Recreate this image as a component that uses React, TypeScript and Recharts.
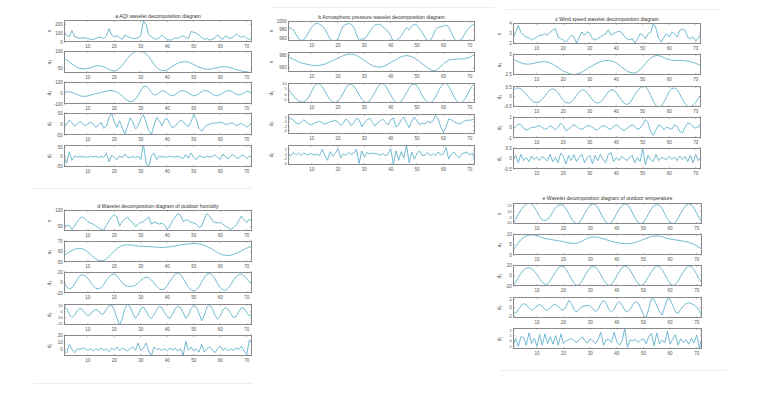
import React from 'react';
import { LineChart, Line, XAxis, YAxis } from 'recharts';

const X = [1,2,3,4,5,6,7,8,9,10,11,12,13,14,15,16,17,18,19,20,21,22,23,24,25,26,27,28,29,30,31,32,33,34,35,36,37,38,39,40,41,42,43,44,45,46,47,48,49,50,51,52,53,54,55,56,57,58,59,60,61,62,63,64,65,66,67,68,69,70,71,72];
const X_TICKS = [10,20,30,40,50,60,70];

// a: AQI
const aqiS = [100,80,60,130,60,50,40,50,45,40,30,30,40,55,50,40,70,150,80,60,70,50,30,80,60,50,40,40,50,70,240,200,80,60,40,30,50,80,50,30,20,30,50,40,60,70,50,40,120,110,100,80,50,30,40,20,30,50,80,50,30,70,50,40,60,90,70,50,70,40,30,50];
const aqiA3 = [80,76,70,64,58,54,51,50,50,51,53,56,58,59,58,56,52,48,45,44,46,52,60,70,80,89,95,99,100,100,98,93,85,74,63,54,48,45,45,47,52,57,62,66,69,70,70,69,66,62,58,55,52,50,49,49,50,52,54,55,56,56,55,53,50,48,46,44,42,41,40,40];
const aqiD3 = [10,12,10,5,-5,-15,-25,-30,-30,-27,-20,-12,-5,0,5,12,18,22,22,18,8,-8,-28,-50,-68,-78,-75,-55,-20,25,60,65,40,5,-18,-15,5,20,18,0,-18,-25,-15,5,18,22,15,0,-15,-25,-20,-5,12,22,20,8,-10,-22,-25,-15,0,15,22,18,5,-10,-18,-12,2,15,12,0];
const aqiD2 = [-18,0,18,5,-10,0,12,2,-8,0,8,0,-15,-5,8,-20,-10,30,48,10,-15,15,-20,-45,-10,28,10,-22,-10,25,42,10,-30,-48,-5,30,15,-8,20,25,0,-18,-10,5,18,10,-5,-12,10,42,20,-20,-33,-15,-5,0,2,5,5,8,5,-2,0,5,3,-8,-3,2,-5,-15,-5,5];
const aqiD1 = [0,-35,27,-20,5,-3,2,-2,0,-3,2,-1,3,-4,2,-3,20,-27,8,-2,-17,5,-6,15,-3,-5,2,-5,3,-15,70,-35,-55,5,20,-15,4,-3,2,-4,3,0,-2,3,-3,-10,12,-8,20,-5,-15,5,0,-6,4,-2,2,10,-4,-15,15,-3,-12,5,12,-6,-8,8,5,-10,3,0];

// b: atmospheric pressure
const presS = [987,984,980,969,959,954,956,965,976,986,993,996,993,989,982,969,958,953,953,958,976,989,993,995,993,986,969,954,958,958,965,976,984,991,993,993,987,982,976,965,953,954,958,965,976,985,980,989,993,991,982,973,962,953,954,965,980,986,987,989,991,987,973,959,953,954,958,969,980,986,991,995];
const presA3 = [978,976,974,972,970,968,967,966,965,964,963.5,963.5,964,965,966,968,970,972,974,976,978,980,981.5,982.5,982.5,982,980.5,978,975,972,969,966,963.5,962,961,961,962,963.5,966,968.5,971,973.5,976,978,979.5,980,979.5,978,976,973,970,966.5,963.5,960,957,955,955.5,958,962,966.5,970,972.5,973.5,974,974,974.5,974.5,975,976,977,980,983.5];
const presD3 = [5,2,-1,-4,-6,-7,-7,-5.5,-2,3,7.5,10,9.5,7,3,-1.5,-5,-7,-7.5,-6,-3,1.5,6,9,9.5,7.5,4,-0.5,-4.5,-7,-7.5,-6,-2.5,2,6.5,9.5,10,8,4,-0.5,-5,-7.5,-8,-6.5,-3,1.5,6,9,9.5,7.5,3.5,-1,-5,-7.5,-8,-6,-2.5,2.5,7,10,10,7.5,3,-2,-6,-8,-7.5,-5,-1,4,8,10];
const presD2 = [0.3,1.6,0.9,-0.5,-1,-0.2,0.9,0,-1,-1.4,-0.5,-0.2,0.2,-0.5,-1,-0.5,0,0.3,0.7,-0.2,-1.7,-0.5,1.2,0.3,-1.7,-0.5,1.6,0.9,-2.3,-0.5,0.9,1.6,-0.2,-1.9,-0.5,0.5,1.2,-0.2,-1.4,0.9,1.7,-2.3,-1.4,0.9,2.1,-0.5,-2.6,0.3,2.1,0.3,-1.4,-0.5,-1,0.3,-0.5,0.3,2.9,1.2,-2.3,-4.8,-2.3,1.2,0.9,0,-0.5,-1,-0.5,0.3,0.7,0.7,0.9,1.2];
const presD1 = [0.5,-0.8,0.8,-0.3,0.6,-0.5,0.7,-0.2,0.1,0.3,-0.2,0.2,-0.5,2.2,-0.5,-2.5,1.2,-0.8,0.5,2.5,-1.5,0.3,-0.3,0.8,0,0.6,2.2,-3.8,1.5,-1.2,0.8,0.2,0.6,0.4,0.2,-0.3,0.3,-0.5,0.2,2.5,-4.2,1.5,-2.5,1.2,-1.5,4,-3.5,1,-2,0.5,1.5,-0.5,-0.3,0.8,-0.6,0.3,-0.5,1,-0.3,0.2,3,-2,0.2,1,-0.5,-1.5,0.3,0.6,1,-0.3,0.6,-2.5];

// c: wind speed
const windS = [2.45,3.1,3.8,3.1,2.8,2.6,2.55,2.3,2.45,2.6,2.8,2.8,2.95,2.8,3.1,3.3,3.5,2.6,2.45,2.3,2.1,2.45,2.8,2.6,2.0,2.6,3.15,2.8,3.15,3.0,2.45,2.3,2.45,2.6,2.8,2.95,3.35,2.8,2.95,3.1,3.2,3.1,2.7,2.45,2.3,2.45,2.0,2.4,2.95,2.8,2.45,2.95,3.1,4.0,3.5,2.45,2.1,2.6,2.95,2.6,3.1,2.95,2.6,3.3,3.45,3.3,2.6,2.45,2.6,2.2,2.5,3.0];
const windA3 = [2.87,2.84,2.81,2.78,2.76,2.75,2.75,2.76,2.77,2.79,2.8,2.81,2.81,2.8,2.78,2.75,2.71,2.67,2.62,2.58,2.55,2.52,2.5,2.49,2.5,2.52,2.55,2.59,2.63,2.67,2.71,2.75,2.78,2.81,2.83,2.84,2.84,2.83,2.81,2.78,2.73,2.68,2.63,2.58,2.55,2.53,2.53,2.56,2.61,2.68,2.76,2.84,2.9,2.94,2.96,2.96,2.94,2.91,2.88,2.86,2.85,2.84,2.84,2.84,2.84,2.83,2.82,2.81,2.79,2.77,2.74,2.71];
const windD3 = [0.3,0.42,0.45,0.4,0.28,0.12,-0.05,-0.2,-0.3,-0.32,-0.27,-0.15,0.02,0.2,0.35,0.4,0.35,0.2,0,-0.2,-0.32,-0.35,-0.3,-0.15,0.05,0.25,0.35,0.33,0.2,0.02,-0.17,-0.3,-0.35,-0.3,-0.15,0.05,0.25,0.35,0.33,0.2,0,-0.2,-0.35,-0.42,-0.35,-0.15,0.1,0.3,0.45,0.55,0.52,0.35,0.05,-0.25,-0.48,-0.57,-0.5,-0.3,-0.02,0.25,0.42,0.45,0.35,0.12,-0.15,-0.38,-0.52,-0.55,-0.45,-0.3,-0.1,0.1];
const windD2 = [-0.23,0.1,0.33,0.27,-0.07,-0.23,-0.17,0.03,0,0.1,0.2,0.03,-0.17,-0.07,0.17,0,-0.23,0.03,0.43,0.17,-0.3,-0.17,0.1,0.27,0.1,-0.1,-0.17,-0.03,0.17,0.17,0.03,-0.17,-0.23,0.03,0.17,0.1,-0.1,-0.17,0.1,0.27,0.1,-0.17,-0.3,-0.07,0.1,0.27,0.1,-0.17,-0.07,0.27,0.77,0.43,-0.4,-0.73,-0.23,0.27,0.1,-0.23,0.03,-0.07,-0.17,0.27,0.1,-0.4,-0.5,0.03,0.43,0.33,0.1,-0.07,0.1,0.43];
const windD1 = [-0.05,0.15,-0.2,0.2,-0.1,0.05,-0.15,0.12,-0.05,0.08,-0.1,0.1,0,-0.12,0.2,-0.15,0.05,-0.2,0.25,0.1,-0.25,0.15,-0.1,0.18,-0.15,0.05,0.2,-0.2,0.05,0.15,-0.25,0.15,-0.1,0.2,-0.05,-0.2,0.2,0.28,-0.15,0.05,-0.1,0.1,0,-0.1,0.05,0.15,-0.2,0.05,-0.15,0.45,-0.3,0.15,-0.05,-0.15,0.2,-0.1,0.05,0,-0.05,0.1,-0.05,0.08,-0.1,0.12,-0.05,0.1,-0.15,0.15,-0.2,0.2,-0.1,0.05];

// d: outdoor humidity
const humS = [54,52,54,41.5,52,65,75.5,79,73,65,61,57.5,52,47,41.5,39,54,68,79,86,79,52,65,73,79,68,63,50,57.5,63,65,73,79,57.5,63,61,57.5,61,54,41.5,52,68,79,89,84,65,71,68,63,61,57.5,47,52,73,89,82,68,63,61,63,57.5,52,47,41.5,47,54,68,82,71,63,73,63];
const humA3 = [56,58,59.5,61,62,62.8,63,62.5,61.2,59.5,57.3,55,53,51.5,51,51.5,53,55.3,58,60.5,62.8,64.5,65.6,66.2,66.4,66.3,66,65.6,65.2,65,64.8,64.7,64.6,64.5,64.3,64.1,64,63.9,64,64.2,64.5,64.9,65.3,65.8,66.2,66.6,67,67.3,67.5,67.6,67.5,67.2,66.6,65.8,64.8,63.5,62,60.5,59,57.7,56.8,56.3,56.2,56.5,57.2,58.2,59.4,60.7,62,63.2,64.2,65];
const humD3 = [0,-8,-12,-10,-3,6,13,15,13,8,1,-6,-11,-12,-10,-4,4,11,15,16,13,6,-1,-5,-7,-7.5,-7,-5,-1,4,8,10,9,5,-1,-7,-12,-14,-12,-6,2,10,16,18,15,8,-1,-9,-14,-16,-14,-8,1,10,16,17,14,7,-2,-10,-14,-15,-11,-4,4,11,15,16,13,7,1,-3];
const humD2 = [8,5.5,-4,-9.5,-5.5,1.5,5.5,4,-3,-7,-4,1.5,4,1.5,-4,-3,4,9.5,11,3,-11,-22,-11,5.5,12.5,8,-3,-11,-5.5,5.5,8,1.5,-8,-11,-5.5,4,9.5,7,-1.5,-8,-11,-4,5.5,9.5,7,-1.5,-11,-5.5,5.5,11,8,-3,-15,-5.5,8,11,5.5,-5.5,-12.5,-7,3,7,4,-3,-9.5,-8,0,7,5.5,-1.5,-7,-3];
const humD1 = [-2,-4.5,7,0,-4.5,1,0,2,1,-1,1,-2,1,-1,2,-1,1,-3,2,-1,3.5,-2,2,0,-2,1,3.5,-1,9,-2,2,9,-2,-9,3.5,0,1,-1,1,-2,2,-1,2,-2,1,-8,11,-1,3.5,-2,1,-3.5,7,-3.5,1,3.5,0,-4.5,1,4.5,-1,2,-2,1,-1,2,0,4.5,-2,-7,13,11];

// e: outdoor temperature
const tempS = [-11,-4,5,13,19,23,24.5,23,18,10,1,-5,-6,-4,2,10,17,21,22,20,14,6,-3,-9,-11.5,-9,-2,7,15,21,23.5,22,16,7,-2,-9,-11.5,-9,-2,7,15,21,23.5,22,16,7,-2,-9,-11.5,-9,-2,7,15,20,22,21,15,6,-3,-9,-11.5,-9,-2,7,15,21,23.5,22,16,7,-2,-9];
const tempA3 = [2,4,5.8,7.3,8.4,9.1,9.5,9.6,9.5,9.2,8.8,8.3,7.9,7.6,7.4,7.2,7,6.8,6.6,6.3,6,5.8,5.6,5.5,5.6,6,6.6,7.3,7.9,8.3,8.6,8.6,8.4,8.1,7.7,7.3,6.9,6.5,6.2,5.9,5.7,5.5,5.4,5.4,5.5,5.7,6,6.4,6.9,7.4,7.9,8.4,8.8,9,9.1,9,8.7,8.3,7.9,7.6,7.4,7.2,7,6.8,6.6,6.3,6,5.6,5.1,4.4,3.6,2.8];
const tempD3 = [-19,-12,-3,5,11,15,16,14,9,2,-6,-13,-17,-16,-10,-1,8,15,19,18,12,3,-7,-15,-19,-17,-10,0,9,15,18,17,11,2,-8,-15,-19,-17,-10,0,9,16,19,17,11,2,-8,-15,-19,-17,-10,-1,8,15,19,18,12,3,-7,-15,-19,-17,-11,-1,8,15,19,18,12,3,-7,-14];
const tempD2 = [-1,-1.4,-0.4,0.4,1,0.7,0,-0.6,-0.2,0.4,0.8,0.4,-0.4,-0.6,0,0.6,0.8,0.3,-0.4,-0.6,0.4,1.8,1,-0.6,-1,-0.2,0.3,0.4,0.6,0.4,-0.2,-0.9,-0.4,1,1.8,1,-0.4,-1,-0.4,1,1.5,0.6,-0.6,-1,-0.4,0.7,1.5,1.2,-0.2,-1.7,-2.5,-0.2,2.2,2,0.6,-1,-1.8,0.2,2.2,2,0.6,-1,-1.4,-0.4,0.4,1,1.2,1,0.7,0.2,-0.6,-2.2];
const tempD1 = [-1,0.5,-1,0.8,0.6,-0.8,1.5,-0.5,0.5,-1,1.2,-0.8,1.3,-0.5,0.8,-0.6,1,-0.8,1.3,-0.5,0,0.2,0.5,0,-0.3,0.3,0.8,0,-0.4,0.4,0,-0.5,0.3,1.6,-0.8,0.2,0.3,-0.3,1.6,-0.2,-0.8,0,2.4,-1.2,0.2,0,0.3,-0.3,0.2,0.4,-0.5,0.8,1.4,-0.9,1.5,-0.6,0.2,-0.4,1.8,-0.6,0.3,1.2,-0.8,0.4,-0.3,0.2,-0.6,0.5,-0.4,1.1,-1.3,0.6];

const LINE = '#62b2cc';
const AXIS = '#8a8a8a';
const TXT = '#555';
const FONT = '"Liberation Sans", Arial, sans-serif';
const YW = 24;
const XH = 10;
const MT = 2;
const MR = 2;

type Sub = { label: string; data: number[]; domain: [number, number]; ticks: number[]; fs?: number };
type Panel = { title: string; left: number; width: number; titleY: number; tops: number[]; h: number; labelOff: number; subs: Sub[] };

const PANELS: Panel[] = [
  {
    title: 'a AQI wavelet decomposition diagram', left: 64, width: 188, titleY: 13.5, tops: [20, 51, 82, 113, 145], h: 22, labelOff: 15,
    subs: [
      { label: 's', data: aqiS, domain: [0, 250], ticks: [0, 100, 200] },
      { label: 'a\u2083', data: aqiA3, domain: [38, 101], ticks: [50, 100] },
      { label: 'd\u2083', data: aqiD3, domain: [-100, 100], ticks: [-100, 0, 100] },
      { label: 'd\u2082', data: aqiD2, domain: [-50, 50], ticks: [-50, 0, 50] },
      { label: 'd\u2081', data: aqiD1, domain: [-56, 64], ticks: [-50, 0, 50] },
    ],
  },
  {
    title: 'b Atmospheric pressure wavelet decomposition diagram', left: 288, width: 187, titleY: 14.5, tops: [21, 52, 83, 114, 145], h: 20, labelOff: 17,
    subs: [
      { label: 's', data: presS, domain: [953, 1001], ticks: [960, 980, 1000] },
      { label: 's', data: presA3, domain: [953, 986], ticks: [960, 980] },
      { label: 'd\u2083', data: presD3, domain: [-8, 10.5], ticks: [-5, 0, 5, 10], fs: 4 },
      { label: 'd\u2082', data: presD2, domain: [-5.5, 3.5], ticks: [-4, -2, 0, 2], fs: 3.8 },
      { label: 'd\u2081', data: presD1, domain: [-4.5, 4], ticks: [-4, -2, 0, 2], fs: 3.8 },
    ],
  },
  {
    title: 'c Wind speed wavelet decomposition diagram', left: 513, width: 188, titleY: 16.5, tops: [23, 54, 86, 117, 148], h: 21, labelOff: 14,
    subs: [
      { label: 's', data: windS, domain: [1.9, 4.05], ticks: [2, 3, 4] },
      { label: 'a\u2083', data: windA3, domain: [2.48, 3.0], ticks: [2.5, 3] },
      { label: 'd\u2083', data: windD3, domain: [-0.55, 0.55], ticks: [-0.5, 0, 0.5] },
      { label: 'd\u2082', data: windD2, domain: [-1, 1], ticks: [-1, 0, 1] },
      { label: 'd\u2081', data: windD1, domain: [-0.5, 0.5], ticks: [-0.5, 0, 0.5] },
    ],
  },
  {
    title: 'd Wavelet decomposition diagram of outdoor humidity', left: 64, width: 188, titleY: 203.5, tops: [210, 241, 272, 304, 335], h: 21, labelOff: 15,
    subs: [
      { label: 's', data: humS, domain: [37, 100], ticks: [50, 100] },
      { label: 'a\u2083', data: humA3, domain: [50, 70], ticks: [50, 60, 70] },
      { label: 'd\u2083', data: humD3, domain: [-20, 20], ticks: [-20, 0, 20] },
      { label: 'd\u2082', data: humD2, domain: [-22, 13], ticks: [-20, -10, 0, 10], fs: 4 },
      { label: 'd\u2081', data: humD1, domain: [-9, 20], ticks: [0, 10, 20] },
    ],
  },
  {
    title: 'e Wavelet decomposition diagram of outdoor temperature', left: 513, width: 189, titleY: 195.5, tops: [203, 234, 265, 297, 328], h: 21, labelOff: 14,
    subs: [
      { label: 's', data: tempS, domain: [-12, 25], ticks: [-10, 0, 10, 20], fs: 4 },
      { label: 'a\u2083', data: tempA3, domain: [0, 10], ticks: [0, 5, 10] },
      { label: 'd\u2083', data: tempD3, domain: [-20, 21], ticks: [-20, 0, 20] },
      { label: 'd\u2082', data: tempD2, domain: [-2.5, 2.6], ticks: [-2, 0, 2] },
      { label: 'd\u2081', data: tempD1, domain: [-1.5, 2.4], ticks: [-1, 0, 1, 2], fs: 4 },
    ],
  },
];

// faint figure edges visible in the reference
const EDGES = [
  { left: 33, top: 188, width: 220 },
  { left: 33, top: 383, width: 220 },
  { left: 500, top: 370, width: 227 },
  { left: 272, top: 7, width: 223 },
  { left: 505, top: 9, width: 215 },
];

function SubPlot({ left, top, w, h, sub, labelOff }: { left: number; top: number; w: number; h: number; sub: Sub; labelOff: number }) {
  const rows = X.map((x, i) => ({ x, v: sub.data[i] }));
  const bx0 = YW;
  const bx1 = YW + w;
  const by0 = MT;
  const by1 = MT + h;
  const fs = sub.fs ?? 4.5;
  const xTick = (p: any) => (
    <g>
      <line x1={p.x} x2={p.x} y1={by1} y2={by1 - 2} stroke={AXIS} strokeWidth={0.6} />
      <line x1={p.x} x2={p.x} y1={by0} y2={by0 + 2} stroke={AXIS} strokeWidth={0.6} />
      <text x={p.x} y={by1 + 5.8} textAnchor="middle" fontSize={4.5} fill={TXT} fontFamily={FONT}>{p.payload.value}</text>
    </g>
  );
  const yTick = (p: any) => (
    <g>
      <line x1={bx0} x2={bx0 + 2} y1={p.y} y2={p.y} stroke={AXIS} strokeWidth={0.6} />
      <line x1={bx1} x2={bx1 - 2} y1={p.y} y2={p.y} stroke={AXIS} strokeWidth={0.6} />
      <text x={bx0 - 1.2} y={p.y + fs * 0.36} textAnchor="end" fontSize={fs} fill={TXT} fontFamily={FONT}>{p.payload.value}</text>
    </g>
  );
  return (
    <>
      <div style={{ position: 'absolute', left: left - YW, top: top - MT }}>
        <LineChart width={YW + w + MR} height={MT + h + XH} data={rows} margin={{ top: MT, right: MR, bottom: 0, left: 0 }}>
          <XAxis dataKey="x" type="number" domain={[1, 72]} ticks={X_TICKS} height={XH} axisLine={false} tickLine={false} tick={xTick} interval={0} allowDataOverflow />
          <YAxis type="number" domain={sub.domain} ticks={sub.ticks} width={YW} axisLine={false} tickLine={false} tick={yTick} interval={0} allowDataOverflow />
          <Line type="linear" dataKey="v" stroke={LINE} strokeWidth={0.9} dot={false} isAnimationActive={false} />
        </LineChart>
      </div>
      <div style={{ position: 'absolute', left, top, width: w, height: h, border: `1px solid ${AXIS}`, boxSizing: 'border-box', pointerEvents: 'none' }} />
      <div style={{ position: 'absolute', left: left - labelOff, top: top + h / 2, transform: 'translate(-50%, -50%) rotate(-90deg)', fontSize: 5, color: TXT, fontFamily: FONT, whiteSpace: 'nowrap', lineHeight: 1 }}>{sub.label}</div>
    </>
  );
}

export default function App() {
  return (
    <div style={{ position: 'absolute', left: 0, top: 0, width: 757, height: 396, background: '#fff', overflow: 'hidden' }}>
      {EDGES.map((e, i) => (
        <div key={'e' + i} style={{ position: 'absolute', left: e.left, top: e.top, width: e.width, height: 1, background: '#eeeeee' }} />
      ))}
      {PANELS.map((p, pi) => (
        <React.Fragment key={pi}>
          <div style={{ position: 'absolute', left: p.left, width: p.width, top: p.titleY, textAlign: 'center', fontSize: 5.1, color: '#333', fontFamily: FONT, whiteSpace: 'nowrap', lineHeight: 1 }}>{p.title}</div>
          {p.subs.map((s, si) => (
            <SubPlot key={si} left={p.left} top={p.tops[si]} w={p.width} h={p.h} sub={s} labelOff={p.labelOff} />
          ))}
        </React.Fragment>
      ))}
    </div>
  );
}
